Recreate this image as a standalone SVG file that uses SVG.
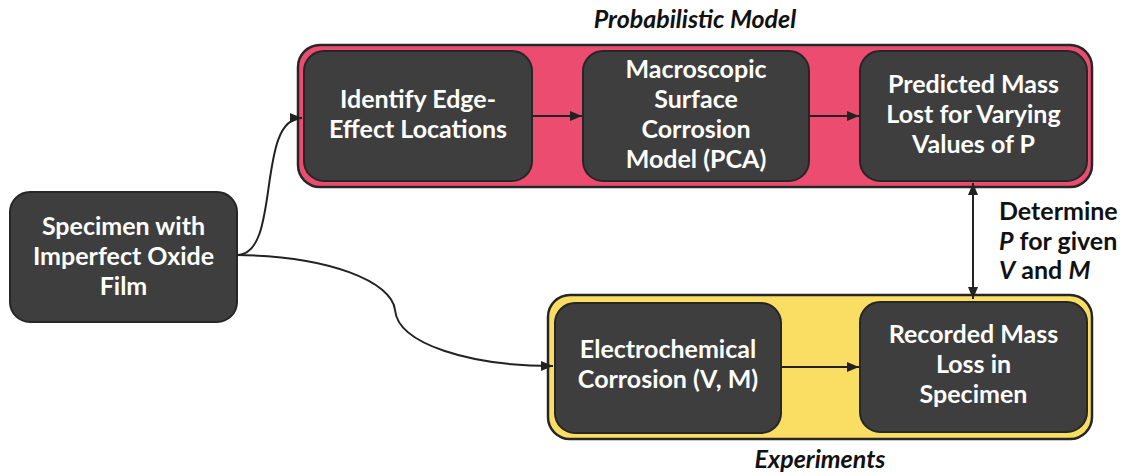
<svg xmlns="http://www.w3.org/2000/svg" width="1131" height="476" viewBox="0 0 1131 476">
  <defs>
    <marker id="arrow" viewBox="0 0 12 10" refX="12" refY="5" markerWidth="12" markerHeight="10" markerUnits="userSpaceOnUse" orient="auto-start-reverse">
      <path d="M0,0 L12,5 L0,10 Z" fill="#222"/>
    </marker>
    <style>
      .node rect { fill: #3e3e3e; stroke: #262626; stroke-width: 2; }
      .node text { fill: #ffffff; font-family: Lato, "Open Sans", sans-serif; font-size: 25px; font-weight: 700; text-anchor: middle; }
      .group-box { stroke: #262626; stroke-width: 2.5; }
      .title { fill: #111; font-family: Lato, "Open Sans", sans-serif; font-size: 25px; font-weight: 700; font-style: italic; text-anchor: middle; }
      .label { fill: #111; font-family: Lato, "Open Sans", sans-serif; font-size: 25px; font-weight: 700; }
      .edge { fill: none; stroke: #222; stroke-width: 2; marker-end: url(#arrow); }
    </style>
  </defs>

  <rect width="1131" height="476" fill="#ffffff"/>

  <!-- group containers -->
  <g id="probabilistic-model">
    <rect class="group-box" x="298" y="45" width="794" height="142" rx="22" fill="#eb4c6f"/>
    <text class="title" x="695" y="28">Probabilistic Model</text>
  </g>
  <g id="experiments">
    <rect class="group-box" x="548" y="295" width="544" height="144" rx="22" fill="#fade64"/>
    <text class="title" x="820" y="468">Experiments</text>
  </g>

  <!-- connectors -->
  <g id="connectors">
    <path class="edge" d="M237,255 C282,255 255,118 302,118"/>
    <path class="edge" d="M237,255 C330,256 392,282 395,310 C398,344 470,366 553,366"/>
    <path class="edge" d="M532,116 L582,116"/>
    <path class="edge" d="M809,116 L859,116"/>
    <path class="edge" d="M781,367 L859,367"/>
    <path class="edge" d="M973,299 L973,183" marker-start="url(#arrow)"/>
    <text class="label" x="999" y="220">Determine</text>
    <text class="label" x="999" y="249.5"><tspan font-style="italic">P</tspan> for given</text>
    <text class="label" x="999" y="279"><tspan font-style="italic">V</tspan> and <tspan font-style="italic">M</tspan></text>
  </g>

  <!-- nodes -->
  <g id="specimen" class="node">
    <rect x="10" y="192" width="227" height="130" rx="20"/>
    <text x="123.5" y="235">Specimen with</text>
    <text x="123.5" y="265">Imperfect Oxide</text>
    <text x="123.5" y="295">Film</text>
  </g>
  <g id="identify-edge" class="node">
    <rect x="304" y="51" width="228" height="130" rx="20"/>
    <text x="418" y="108">Identify Edge-</text>
    <text x="418" y="138">Effect Locations</text>
  </g>
  <g id="surface-model" class="node">
    <rect x="583" y="51" width="226" height="130" rx="20"/>
    <text x="696" y="78">Macroscopic</text>
    <text x="696" y="108">Surface</text>
    <text x="696" y="138">Corrosion</text>
    <text x="696" y="168">Model (PCA)</text>
  </g>
  <g id="predicted-mass" class="node">
    <rect x="860" y="51" width="227" height="130" rx="20"/>
    <text x="973.5" y="93">Predicted Mass</text>
    <text x="973.5" y="123">Lost for Varying</text>
    <text x="973.5" y="153">Values of P</text>
  </g>
  <g id="electrochemical" class="node">
    <rect x="555" y="303" width="226" height="130" rx="20"/>
    <text x="668" y="358">Electrochemical</text>
    <text x="668" y="388">Corrosion (V, M)</text>
  </g>
  <g id="recorded-mass" class="node">
    <rect x="860" y="302" width="227" height="130" rx="20"/>
    <text x="973.5" y="343">Recorded Mass</text>
    <text x="973.5" y="373">Loss in</text>
    <text x="973.5" y="403">Specimen</text>
  </g>
</svg>
